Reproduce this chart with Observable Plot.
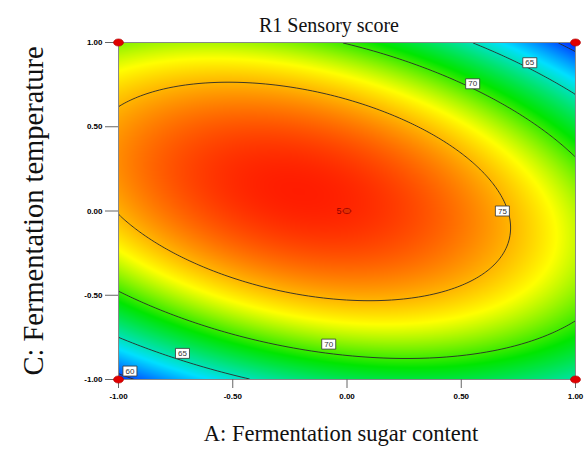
<!DOCTYPE html>
<html><head><meta charset="utf-8">
<script src="https://cdn.jsdelivr.net/npm/d3@7"></script>
<script src="https://cdn.jsdelivr.net/npm/@observablehq/plot@0.6"></script>
<style>body{margin:0;background:#fff;}</style>
</head><body><div id="chart"></div>
<script>
// Response surface model (coded units)
const terms = ["Intercept", "A", "C", "AC", "A²", "C²"];
const coefficients = [78.50, -1.52, 1.34, -4.66, -4.90, -10.00];

const tickValues = [-1, -0.5, 0, 0.5, 1];
const tickLabels = ["-1.00", "-0.50", "0.00", "0.50", "1.00"];
const contourLevels = [60, 65, 70, 75];

// design points
const designA = [-1, -1, 1, 1];
const designC = [-1, 1, -1, 1];
const centerA = [0];
const centerC = [0];
const centerReps = ["5"];

// contour labels
const labelText = ["65", "70", "75", "70", "65", "60"];
const labelA = [0.80, 0.55, 0.68, -0.08, -0.72, -0.95];
const labelC = [0.88, 0.755, 0.0, -0.79, -0.845, -0.95];

const colorStops = [58.5, 63.5, 69, 73.2, 78.6];
const colorRange = ["#0018ff", "#00e0ff", "#00e600", "#ffff00", "#ff2200"];

const title = "R1 Sensory score";
const xLabel = "A: Fermentation sugar content";
const yLabel = "C: Fermentation temperature";

const [b0, bA, bC, bAC, bAA, bCC] = coefficients;
const response = (a, c) => b0 + bA * a + bC * c + bAC * a * c + bAA * a * a + bCC * c * c;

const boxSymbol = {draw(ctx) { ctx.rect(-7, -5, 14, 10); }};
function ellipseSymbol(rx, ry) {
  const k = 0.5523;
  return {draw(ctx) {
    ctx.moveTo(rx, 0);
    ctx.bezierCurveTo(rx, k * ry, k * rx, ry, 0, ry);
    ctx.bezierCurveTo(-k * rx, ry, -rx, k * ry, -rx, 0);
    ctx.bezierCurveTo(-rx, -k * ry, -k * rx, -ry, 0, -ry);
    ctx.bezierCurveTo(k * rx, -ry, rx, -k * ry, rx, 0);
    ctx.closePath();
  }};
}
const tickFmt = d => tickLabels[tickValues.indexOf(d)];
const serif = "'Liberation Serif', 'Times New Roman', serif";

const plot = Plot.plot({
  width: 588, height: 456,
  marginLeft: 118, marginRight: 13, marginTop: 42, marginBottom: 77,
  x: {domain: [-1, 1]},
  y: {domain: [-1, 1]},
  color: {type: "linear", domain: colorStops, range: colorRange},
  style: {fontFamily: "Arial, 'Liberation Sans', sans-serif", background: "#fff", color: "#000"},
  marks: [
    Plot.raster({fill: response, x1: -1, x2: 1, y1: -1, y2: 1, pixelSize: 1}),
    Plot.contour({value: response, x1: -1, x2: 1, y1: -1, y2: 1, pixelSize: 1,
      thresholds: contourLevels, stroke: "#2a2a2a", strokeWidth: 0.9, fill: "none"}),
    Plot.frame({stroke: "#888"}),
    Plot.axisX({ticks: tickValues, tickFormat: tickFmt, tickSize: 9, tickPadding: 5,
      fontWeight: "bold", fontSize: 8, label: null, stroke: "#666"}),
    Plot.axisY({ticks: tickValues, tickFormat: tickFmt, tickSize: 13, tickPadding: 3,
      fontWeight: "bold", fontSize: 8, label: null, stroke: "#666"}),
    Plot.dot(labelText, {x: labelA, y: labelC, symbol: boxSymbol, fill: "white", stroke: "#333", strokeWidth: 0.8}),
    Plot.text(labelText, {x: labelA, y: labelC, fontSize: 8, fill: "#333"}),
    Plot.dot(designA, {x: designA, y: designC, symbol: ellipseSymbol(5, 3.6), fill: "#e00000", stroke: "#b00000", strokeWidth: 0.6}),
    Plot.dot(centerReps, {x: centerA, y: centerC, symbol: ellipseSymbol(4, 2.6), fill: "#e03000", stroke: "#900000", strokeWidth: 0.8}),
    Plot.text(centerReps, {x: centerA, y: centerC, dx: -8, fontSize: 9, fill: "#8b0000"}),
    Plot.text([title], {frameAnchor: "top", dx: -18, dy: -25, fontSize: 20, fontFamily: serif, fill: "#111"}),
    Plot.text([xLabel], {frameAnchor: "bottom", dx: -6, dy: 61, fontSize: 22.5, fontFamily: serif, fill: "#111"}),
    Plot.text([yLabel], {frameAnchor: "left", textAnchor: "middle", dx: -85, rotate: -90, fontSize: 28.5, fontFamily: serif, fill: "#111"})
  ]
});
document.getElementById("chart").appendChild(plot);
</script>
</body></html>
